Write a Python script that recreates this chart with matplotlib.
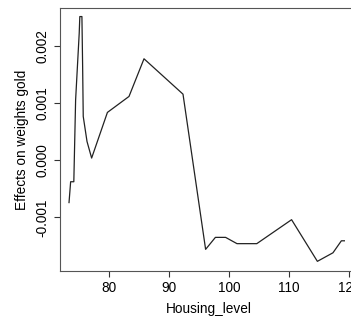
import matplotlib
matplotlib.use('Agg')
import matplotlib.pyplot as plt

plt.rcParams['font.family'] = ['Liberation Sans', 'DejaVu Sans']

# values
housing = [73.3, 73.57, 74.1, 74.4, 75.0, 75.1, 75.45, 75.57, 75.67, 76.3, 77.07,
           79.7, 83.3, 85.8, 92.3, 96.07, 97.7, 99.4, 101.3, 104.6, 110.4,
           114.7, 117.3, 118.7, 119.2]
effect = [-0.00074, -0.000375, -0.000375, 0.00106, 0.00223, 0.00252, 0.00252,
          0.00164, 0.00077, 0.00033, 0.00004, 0.00084, 0.00112, 0.00178, 0.00116,
          -0.00156, -0.00135, -0.00135, -0.00146, -0.00146, -0.00104,
          -0.00177, -0.00162, -0.00141, -0.00141]
xticks = [80, 90, 100, 110, 120]
yticks = [-0.001, 0.0, 0.001, 0.002]
ytick_labels = ['-0.001', '0.000', '0.001', '0.002']

fig = plt.figure(figsize=(3.51, 3.20), dpi=100)
ax = fig.add_axes([0.171, 0.153, 0.846, 0.822])
ax.plot(housing, effect, color='#222222', lw=0.9)

ax.set_xlim(71.8, 121.3)
ax.set_ylim(-0.00194, 0.00267)
ax.set_xticks(xticks)
ax.set_xticklabels([str(t) for t in xticks])
ax.set_yticks(yticks)
ax.set_yticklabels(ytick_labels, rotation=90, va='center')
ax.tick_params(labelsize=9.8, length=4, width=0.8, color='#333333', pad=3.5)
for s in ax.spines.values():
    s.set_color('#555555')
    s.set_linewidth(0.8)

ax.set_xlabel('Housing_level', fontsize=9.8, labelpad=4.5)
ax.set_ylabel('Effects on weights gold', fontsize=9.8, labelpad=5)

fig.savefig('out.png', dpi=100)
